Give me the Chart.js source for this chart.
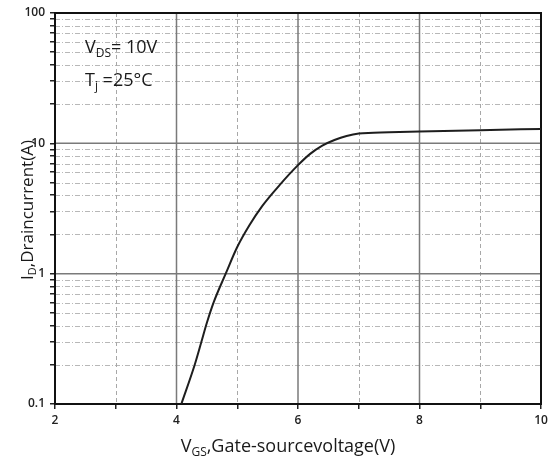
<!DOCTYPE html>
<html>
<head>
<meta charset="utf-8">
<script src="https://cdn.jsdelivr.net/npm/chart.js@4"></script>
<style>
  html, body { margin: 0; padding: 0; background: #ffffff; }
  #wrap { width: 553px; height: 467px; }
</style>
</head>
<body>
<div id="wrap"><canvas id="c" width="553" height="467"></canvas></div>
<script>
// ---- data ----
const vgs = [4.08, 4.3, 4.41, 4.5, 4.61, 4.81, 5.0, 5.2, 5.41, 5.7, 6.0, 6.2, 6.4, 6.6, 6.8, 7.0, 7.5, 8.0, 9.0, 10.0];
const idA = [0.1, 0.2, 0.3, 0.42, 0.6, 1.0, 1.6, 2.35, 3.3, 4.8, 6.8, 8.3, 9.6, 10.6, 11.4, 11.9, 12.15, 12.3, 12.6, 12.9];
const xTickLabels = ['2', '4', '6', '8', '10'];
const yTickLabels = ['0.1', '1', '10', '100'];
const decades = [0.1, 1, 10];
const annotation1 = [['V', false], ['DS', true], ['= 10V', false]];
const annotation2 = [['T', false], ['j', true], [' =25°C', false]];
const xTitle = [['V', false], ['GS', true], [',Gate-sourcevoltage(V)', false]];
const yTitle = [['I', false], ['D', true], [',Draincurrent(A)', false]];

const points = vgs.map((v, i) => ({ x: v, y: idA[i] }));

const yTickValues = [];
decades.forEach(d => { for (let k = 1; k <= 9; k++) yTickValues.push(+(d * k).toPrecision(3)); });
yTickValues.push(100);

const FONT = '"Open Sans", "Noto Sans", sans-serif';

function drawSubText(ctx, parts, x, y, size, align) {
  let total = 0;
  const widths = parts.map(([t, sub]) => {
    ctx.font = (sub ? Math.round(size * 0.66) : size) + 'px ' + FONT;
    const w = ctx.measureText(t).width;
    total += w;
    return w;
  });
  let cx = align === 'center' ? x - total / 2 : x;
  parts.forEach(([t, sub], i) => {
    ctx.font = (sub ? Math.round(size * 0.66) : size) + 'px ' + FONT;
    ctx.fillText(t, cx, sub ? y + size * 0.3 : y);
    cx += widths[i];
  });
}

const gridPlugin = {
  id: 'customGrid',
  beforeDatasetsDraw(chart) {
    const { ctx, chartArea: a, scales } = chart;
    const xs = scales.x, ys = scales.y;
    ctx.save();
    ctx.strokeStyle = '#b8b8b8';
    ctx.lineWidth = 1;
    ctx.setLineDash([5, 2, 1, 2]);
    yTickValues.forEach(v => {
      if (decades.includes(v) || v === 100) return;
      const py = Math.round(ys.getPixelForValue(v)) + 0.5;
      ctx.beginPath(); ctx.moveTo(a.left, py); ctx.lineTo(a.right, py); ctx.stroke();
    });
    ctx.strokeStyle = '#a8a8a8';
    ctx.setLineDash([4, 3]);
    [3, 5, 7, 9].forEach(v => {
      const px = Math.round(xs.getPixelForValue(v)) + 0.5;
      ctx.beginPath(); ctx.moveTo(px, a.top); ctx.lineTo(px, a.bottom); ctx.stroke();
    });
    ctx.setLineDash([]);
    ctx.strokeStyle = '#7a7a7a';
    ctx.lineWidth = 1.5;
    [1, 10].forEach(v => {
      const py = ys.getPixelForValue(v);
      ctx.beginPath(); ctx.moveTo(a.left, py); ctx.lineTo(a.right, py); ctx.stroke();
    });
    [4, 6, 8].forEach(v => {
      const px = xs.getPixelForValue(v);
      ctx.beginPath(); ctx.moveTo(px, a.top); ctx.lineTo(px, a.bottom); ctx.stroke();
    });
    ctx.strokeStyle = '#111';
    ctx.lineWidth = 2;
    ctx.strokeRect(a.left, a.top, a.right - a.left, a.bottom - a.top);
    ctx.restore();
  },
  afterDraw(chart) {
    const { ctx } = chart;
    ctx.save();
    ctx.fillStyle = '#1a1a1a';
    ctx.textBaseline = 'middle';
    ctx.textAlign = 'left';
    drawSubText(ctx, annotation1, 85, 48, 18, 'left');
    drawSubText(ctx, annotation2, 85, 81, 18, 'left');
    drawSubText(ctx, xTitle, 288, 447, 18, 'center');
    ctx.translate(28, 210);
    ctx.rotate(-Math.PI / 2);
    drawSubText(ctx, yTitle, 0, 0, 17, 'center');
    ctx.restore();
  }
};

new Chart(document.getElementById('c'), {
  type: 'line',
  data: {
    datasets: [{
      data: points,
      borderColor: '#1e1e1e',
      borderWidth: 2,
      pointRadius: 0,
      fill: false,
      cubicInterpolationMode: 'monotone'
    }]
  },
  options: {
    responsive: false,
    animation: false,
    devicePixelRatio: 1,
    layout: { padding: { top: 13, right: 12, left: 0, bottom: 0 } },
    plugins: { legend: { display: false }, tooltip: { enabled: false }, title: { display: false } },
    scales: {
      x: {
        type: 'linear',
        min: 2, max: 10,
        afterBuildTicks(scale) {
          const t = [];
          for (let v = 2; v <= 10; v++) t.push({ value: v });
          scale.ticks = t;
        },
        afterFit(scale) { scale.height = 63; },
        ticks: {
          autoSkip: false,
          maxRotation: 0,
          padding: 4,
          color: '#222',
          font: { family: FONT, size: 12, weight: '600' },
          callback(v) {
            const i = [2, 4, 6, 8, 10].indexOf(v);
            return i >= 0 ? xTickLabels[i] : '';
          }
        },
        grid: { drawOnChartArea: false, drawTicks: true, tickLength: 5, color: '#222', lineWidth: 1.5 },
        border: { display: true, color: '#111', width: 2 }
      },
      y: {
        type: 'logarithmic',
        min: 0.1, max: 100,
        afterBuildTicks(scale) {
          scale.ticks = yTickValues.map(v => ({ value: v }));
        },
        afterFit(scale) { scale.width = 55; },
        ticks: {
          autoSkip: false,
          padding: 5,
          color: '#222',
          font: { family: FONT, size: 12, weight: '600' },
          callback(v) {
            const all = [0.1, 1, 10, 100];
            const i = all.findIndex(d => Math.abs(d - v) < 1e-9);
            return i >= 0 ? yTickLabels[i] : '';
          }
        },
        grid: { drawOnChartArea: false, drawTicks: true, tickLength: 5, color: '#222', lineWidth: 1.5 },
        border: { display: true, color: '#111', width: 2 }
      }
    }
  },
  plugins: [gridPlugin]
});
</script>
</body>
</html>
